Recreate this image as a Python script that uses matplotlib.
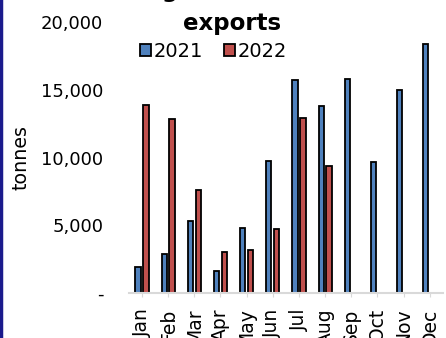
import numpy as np
import matplotlib
matplotlib.use("Agg")
import matplotlib.pyplot as plt
from matplotlib.lines import Line2D

plt.rcParams['font.family'] = ['DejaVu Sans']

# ---- data ----
months = ['Jan', 'Feb', 'Mar', 'Apr', 'May', 'Jun',
          'Jul', 'Aug', 'Sep', 'Oct', 'Nov', 'Dec']
exp_2021 = [1900, 2900, 5350, 1600, 4800, 9750,
            15700, 13800, 15800, 9700, 14950, 18350]
exp_2022 = [13900, 12850, 7600, 3050, 3150, 4700,
            12900, 9400]
yticks = [0, 5000, 10000, 15000, 20000]
ytick_labels = ['-', '5,000', '10,000', '15,000', '20,000']

fig = plt.figure(figsize=(4.46, 3.38), dpi=100)
ax = fig.add_axes([0.289, 0.133, 0.704, 0.802])

x = np.arange(len(months))
x22 = np.arange(len(exp_2022))
w = 0.2
ax.bar(x - 0.15, exp_2021, w, color='#4f81bd', edgecolor='black',
       linewidth=1.3, label='2021')
ax.bar(x22 + 0.15, exp_2022, w, color='#c0504d', edgecolor='black',
       linewidth=1.3, label='2022')

ax.set_xlim(-0.5, len(months) - 0.5)
ax.set_ylim(0, 20000)
ax.set_yticks(yticks)
ax.set_yticklabels(ytick_labels, fontsize=13)
ax.set_xticks(x)
ax.set_xticklabels(months, rotation=90, fontsize=13.5, va='top')
ax.tick_params(axis='y', length=0, pad=18.5)
ax.tick_params(axis='x', length=3, color='#d9d9d9', pad=8)
for s in ['top', 'right', 'left']:
    ax.spines[s].set_visible(False)
ax.spines['bottom'].set_color('#d9d9d9')
ax.spines['bottom'].set_linewidth(1.5)
ax.set_ylabel('tonnes', fontsize=13.7)
ax.yaxis.set_label_coords(-0.312, 0.5)

# title: first line sits mostly above the top edge, as in the source image
fig.text(0.52, 1.006, 'Uganda cocoa', ha='center', va='baseline',
         fontsize=16, fontweight='bold')
fig.text(0.52, 0.911, 'exports', ha='center', va='baseline',
         fontsize=16.5, fontweight='bold')
ax.legend(loc='upper center', bbox_to_anchor=(0.27, 0.955), ncol=2,
          frameon=False, fontsize=14, handlelength=0.55,
          handleheight=0.55, handletextpad=0.15, columnspacing=1.1,
          borderaxespad=0)

fig.add_artist(Line2D([0.003, 0.003], [0, 1], color='#1a1a8c', lw=2.5,
                      transform=fig.transFigure))

fig.savefig('out.png', dpi=100)
